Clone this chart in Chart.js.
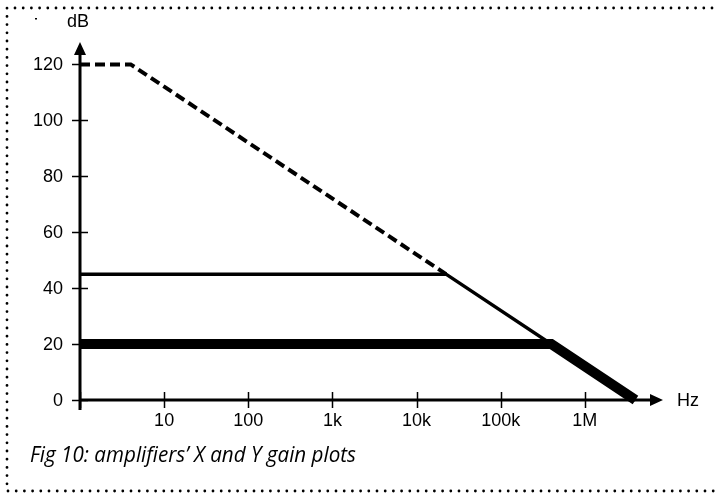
<!DOCTYPE html>
<html>
<head>
<meta charset="utf-8">
<script src="https://cdn.jsdelivr.net/npm/chart.js@4"></script>
<style>
  html, body { margin: 0; padding: 0; background: #fff; }
  canvas { display: block; }
</style>
</head>
<body>
<canvas id="gainPlot" width="715" height="493"></canvas>
<script>
// open loop response (dashed), then the two amplifiers
const openLoopHz = [1, 4, 22400];
const openLoopDb = [120, 120, 45];
const ampXHz = [1, 22400, 4000000];
const ampXDb = [45, 45, 0];
const ampYHz = [1, 400000, 4000000];
const ampYDb = [20, 20, 0];

const xTickHz = [1, 10, 100, 1000, 10000, 100000, 1000000];
const xTickLabels = ['', '10', '100', '1k', '10k', '100k', '1M'];
const yTicks = [0, 20, 40, 60, 80, 100, 120];

const caption = 'Fig 10: amplifiers\u2019 X and Y gain plots';

function pts(xs, ys) {
    return xs.map((x, i) => ({ x: x, y: ys[i] }));
}

// axes with arrows, crossing tick marks, labels and the dotted frame
const bodePlot = {
    id: 'bodePlot',
    beforeDatasetsDraw(chart) {
        const ctx = chart.ctx;
        const xs = chart.scales.x, ys = chart.scales.y;
        const left = xs.left, bottom = ys.bottom;
        ctx.save();
        ctx.strokeStyle = '#000';
        ctx.fillStyle = '#000';
        ctx.lineWidth = 3;
        ctx.beginPath();
        ctx.moveTo(left, bottom + 10);
        ctx.lineTo(left, ys.top + 10);
        ctx.moveTo(left - 1.5, bottom);
        ctx.lineTo(xs.right - 10, bottom);
        ctx.stroke();
        // arrow heads
        ctx.beginPath();
        ctx.moveTo(left, ys.top);
        ctx.lineTo(left - 6, ys.top + 13);
        ctx.lineTo(left + 6, ys.top + 13);
        ctx.closePath();
        ctx.moveTo(xs.right, bottom);
        ctx.lineTo(xs.right - 13, bottom - 6);
        ctx.lineTo(xs.right - 13, bottom + 6);
        ctx.closePath();
        ctx.fill();
        // tick marks
        ctx.lineWidth = 1.5;
        ctx.beginPath();
        yTicks.forEach(v => {
            const py = Math.round(ys.getPixelForValue(v)) + 0.5;
            ctx.moveTo(left - 8, py);
            ctx.lineTo(left + 8, py);
        });
        xTickHz.forEach(v => {
            const px = Math.round(xs.getPixelForValue(v)) + 0.5;
            ctx.moveTo(px, bottom - 8);
            ctx.lineTo(px, bottom + 8);
        });
        ctx.stroke();
        ctx.restore();
    },
    afterDraw(chart) {
        const ctx = chart.ctx;
        const xs = chart.scales.x, ys = chart.scales.y;
        ctx.save();
        ctx.fillStyle = '#000';
        ctx.font = '18px "Liberation Sans", Arial, sans-serif';
        ctx.textBaseline = 'middle';
        ctx.textAlign = 'right';
        yTicks.forEach(v => {
            ctx.fillText(String(v), xs.left - 17, ys.getPixelForValue(v) + 1);
        });
        ctx.textAlign = 'center';
        xTickHz.forEach((v, i) => {
            ctx.fillText(xTickLabels[i], xs.getPixelForValue(v), ys.bottom + 21);
        });
        ctx.fillText('dB', xs.left - 2, 22);
        ctx.textAlign = 'left';
        ctx.fillText('Hz', xs.right + 14, ys.bottom + 1);
        // stray mark near the top left
        ctx.fillRect(35, 18, 2, 1.5);
        // caption
        ctx.font = 'italic 21px "Open Sans", "Noto Sans", sans-serif';
        ctx.textBaseline = 'alphabetic';
        const w = ctx.measureText(caption).width;
        ctx.save();
        ctx.translate(30, 462);
        ctx.scale(326 / w, 1);
        ctx.fillText(caption, 0, 0);
        ctx.restore();
        // dotted frame
        ctx.lineWidth = 2.8;
        ctx.lineCap = 'round';
        ctx.setLineDash([0, 8.2]);
        ctx.beginPath();
        ctx.moveTo(712, 8);
        ctx.lineTo(7, 8);
        ctx.lineTo(7, 491);
        ctx.lineTo(714, 491);
        ctx.stroke();
        ctx.restore();
    }
};

new Chart(document.getElementById('gainPlot').getContext('2d'), {
    type: 'line',
    data: {
        datasets: [{
            data: pts(openLoopHz, openLoopDb),
            borderColor: '#000',
            borderWidth: 4,
            borderDash: [10, 5]
        }, {
            data: pts(ampXHz, ampXDb),
            borderColor: '#000',
            borderWidth: 3.5
        }, {
            data: pts(ampYHz, ampYDb),
            borderColor: '#000',
            borderWidth: 10
        }]
    },
    options: {
        responsive: false,
        animation: false,
        devicePixelRatio: 1,
        layout: { padding: { left: 80, right: 52, top: 42, bottom: 93 } },
        elements: {
            point: { radius: 0, hoverRadius: 0 },
            line: { tension: 0, fill: false, borderCapStyle: 'butt', borderJoinStyle: 'miter' }
        },
        datasets: { line: { clip: false } },
        plugins: { legend: { display: false }, tooltip: { enabled: false } },
        scales: {
            x: { type: 'logarithmic', min: 1, max: 8500000, display: false },
            y: { type: 'linear', min: 0, max: 128, display: false }
        }
    },
    plugins: [bodePlot]
});
</script>
</body>
</html>
